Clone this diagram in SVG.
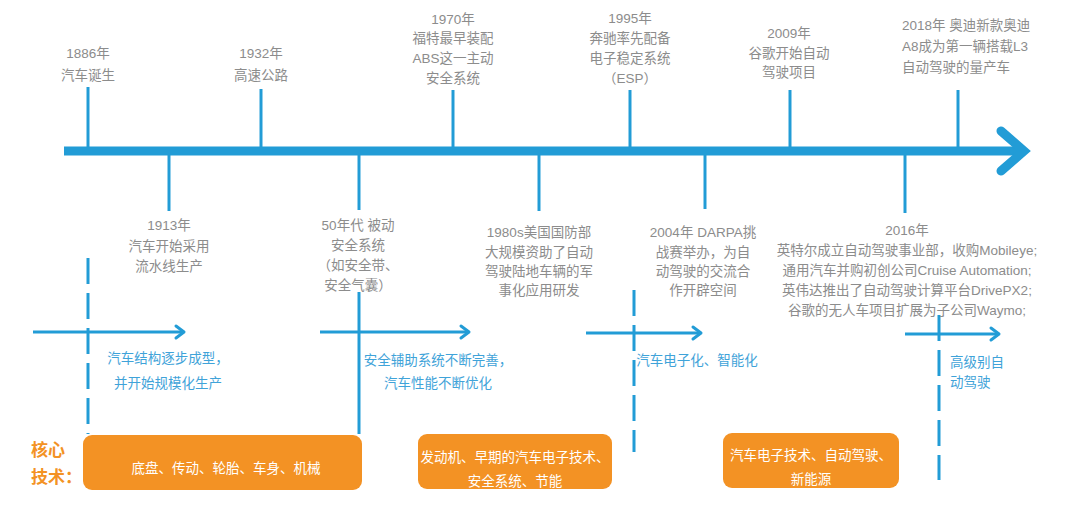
<svg xmlns="http://www.w3.org/2000/svg" width="1080" height="505" viewBox="0 0 1080 505">
<defs>
<style>
.bg{fill:#ffffff}
.ax{stroke:#229cd6;stroke-width:9;fill:none;stroke-linecap:butt}
.head{stroke:#229cd6;stroke-width:9;fill:none;stroke-linecap:round;stroke-linejoin:miter}
.tick{stroke:#229cd6;stroke-width:3;fill:none}
.dash{stroke:#229cd6;stroke-width:3;fill:none;stroke-dasharray:26 9}
.arr{stroke:#229cd6;stroke-width:3;fill:none}
.chev{stroke:#229cd6;stroke-width:3;fill:none;stroke-linecap:round;stroke-linejoin:round}
.g{font-family:"Liberation Sans","Noto Sans CJK SC",sans-serif;font-size:13.5px;fill:#8c8c8c;text-anchor:middle}
.gl{text-anchor:start}
.b{font-family:"Noto Sans CJK SC",sans-serif;font-size:13.5px;fill:#3fa3d9;text-anchor:middle}
.bl{text-anchor:start}
.box{fill:#f39224}
.w{font-family:"Noto Sans CJK SC",sans-serif;font-size:13.5px;fill:#ffffff;text-anchor:middle}
.o{font-family:"Noto Sans CJK SC",sans-serif;font-size:17px;font-weight:bold;fill:#f39224}
</style>
</defs>
<rect class="bg" x="0" y="0" width="1080" height="505"/>

<g id="connectors">
<line class="ax" x1="64" y1="151" x2="1022" y2="151"/>
<polyline class="head" points="1001,131 1024,151 1001,171"/>
<line class="tick" x1="88" y1="87" x2="88" y2="148"/>
<line class="tick" x1="261" y1="89" x2="261" y2="148"/>
<line class="tick" x1="453" y1="90" x2="453" y2="148"/>
<line class="tick" x1="630" y1="90" x2="630" y2="148"/>
<line class="tick" x1="790" y1="90" x2="790" y2="148"/>
<line class="tick" x1="958" y1="90" x2="958" y2="148"/>
<line class="tick" x1="169" y1="154" x2="169" y2="211"/>
<line class="tick" x1="359" y1="154" x2="359" y2="210"/>
<line class="tick" x1="359" y1="292" x2="359" y2="434"/>
<line class="tick" x1="539" y1="154" x2="539" y2="211"/>
<line class="tick" x1="705" y1="154" x2="705" y2="209"/>
<line class="tick" x1="905" y1="154" x2="905" y2="213"/>
<line class="dash" x1="88" y1="258" x2="88" y2="434"/>
<line class="dash" x1="634" y1="290" x2="634" y2="452"/>
<line class="dash" x1="939" y1="315" x2="939" y2="480"/>
<line class="arr" x1="33" y1="332" x2="184" y2="332"/>
<polyline class="chev" points="176,326 184,332 176,338"/>
<line class="arr" x1="320" y1="332" x2="469" y2="332"/>
<polyline class="chev" points="461,326 469,332 461,338"/>
<line class="arr" x1="586" y1="333" x2="701" y2="333"/>
<polyline class="chev" points="693,327 701,333 693,339"/>
<line class="arr" x1="905" y1="334" x2="999" y2="334"/>
<polyline class="chev" points="991,328 999,334 991,340"/>
</g>

<g id="e1886"><text class="g" x="88" y="58">1886年</text><text class="g" x="88" y="80">汽车诞生</text></g>
<g id="e1932"><text class="g" x="261" y="58">1932年</text><text class="g" x="261" y="80">高速公路</text></g>
<g id="e1970"><text class="g" x="453" y="24">1970年</text><text class="g" x="453" y="43">福特最早装配</text><text class="g" x="453" y="63">ABS这一主动</text><text class="g" x="453" y="83">安全系统</text></g>
<g id="e1995"><text class="g" x="630" y="23">1995年</text><text class="g" x="630" y="43">奔驰率先配备</text><text class="g" x="630" y="63">电子稳定系统</text><text class="g" x="630" y="83">（ESP）</text></g>
<g id="e2009"><text class="g" x="789" y="38">2009年</text><text class="g" x="789" y="58">谷歌开始自动</text><text class="g" x="789" y="77">驾驶项目</text></g>
<g id="e2018"><text class="g gl" x="902" y="30">2018年  奥迪新款奥迪</text><text class="g gl" x="902" y="51">A8成为第一辆搭载L3</text><text class="g gl" x="902" y="72">自动驾驶的量产车</text></g>

<g id="e1913"><text class="g" x="169" y="230">1913年</text><text class="g" x="169" y="251">汽车开始采用</text><text class="g" x="169" y="271">流水线生产</text></g>
<g id="e1950"><text class="g" x="358" y="230">50年代  被动</text><text class="g" x="358" y="250">安全系统</text><text class="g" x="358" y="270">（如安全带、</text><text class="g" x="358" y="290">安全气囊）</text></g>
<g id="e1980"><text class="g" x="539" y="237">1980s美国国防部</text><text class="g" x="539" y="257">大规模资助了自动</text><text class="g" x="539" y="276">驾驶陆地车辆的军</text><text class="g" x="539" y="295">事化应用研发</text></g>
<g id="e2004"><text class="g" x="703" y="237">2004年  DARPA挑</text><text class="g" x="703" y="257">战赛举办，为自</text><text class="g" x="703" y="276">动驾驶的交流合</text><text class="g" x="703" y="295">作开辟空间</text></g>
<g id="e2016"><text class="g" x="907" y="235">2016年</text><text class="g" x="907" y="255">英特尔成立自动驾驶事业部，收购Mobileye;</text><text class="g" x="907" y="275">通用汽车并购初创公司Cruise Automation;</text><text class="g" x="907" y="295">英伟达推出了自动驾驶计算平台DrivePX2;</text><text class="g" x="907" y="315">谷歌的无人车项目扩展为子公司Waymo;</text></g>

<g id="stage1"><text class="b" x="168" y="363">汽车结构逐步成型，</text><text class="b" x="168" y="388">并开始规模化生产</text></g>
<g id="stage2"><text class="b" x="438" y="365">安全辅助系统不断完善，</text><text class="b" x="438" y="388">汽车性能不断优化</text></g>
<g id="stage3"><text class="b" x="697" y="365">汽车电子化、智能化</text></g>
<g id="stage4"><text class="b bl" x="950" y="367">高级别自</text><text class="b bl" x="950" y="387">动驾驶</text></g>

<g id="coreLabel"><text class="o" x="31" y="456">核心</text><text class="o" x="31" y="483">技术：</text></g>
<g id="core1"><rect class="box" x="83" y="435" width="279" height="55" rx="9"/><text class="w" x="226" y="473">底盘、传动、轮胎、车身、机械</text></g>
<g id="core2"><rect class="box" x="418" y="434" width="194" height="55" rx="9"/><text class="w" x="515" y="462">发动机、早期的汽车电子技术、</text><text class="w" x="515" y="486">安全系统、节能</text></g>
<g id="core3"><rect class="box" x="723" y="433" width="176" height="55" rx="9"/><text class="w" x="811" y="460">汽车电子技术、自动驾驶、</text><text class="w" x="811" y="484">新能源</text></g>
</svg>
